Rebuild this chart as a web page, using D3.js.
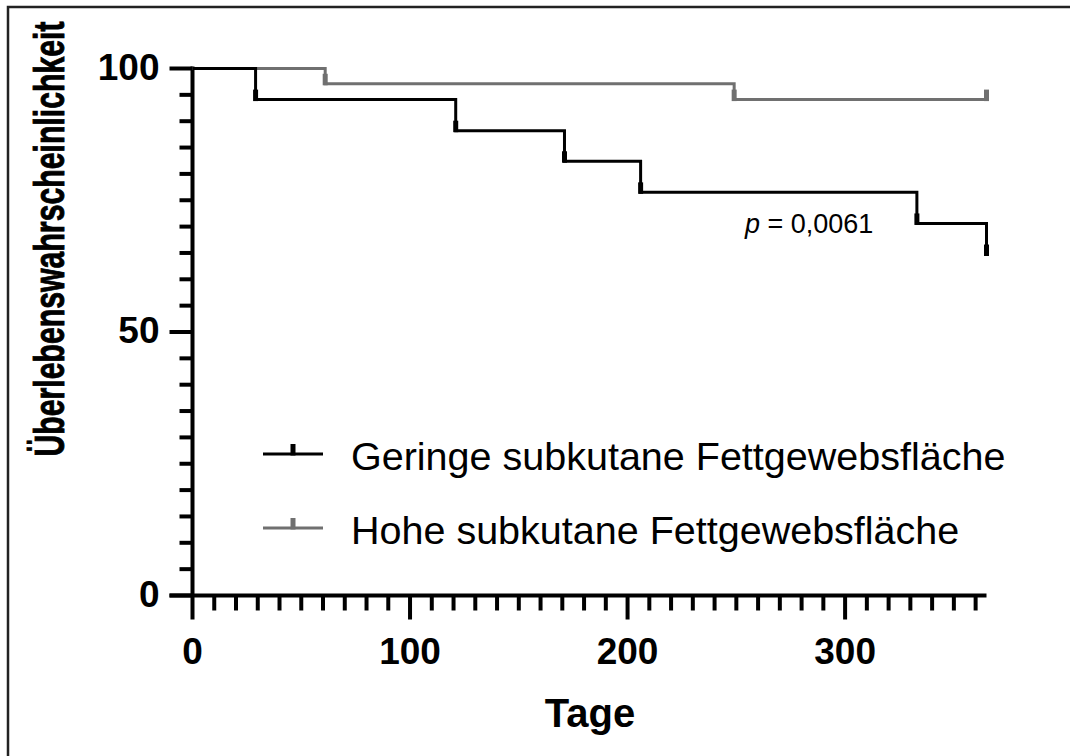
<!DOCTYPE html>
<html>
<head>
<meta charset="utf-8">
<script src="https://cdn.jsdelivr.net/npm/d3@7"></script>
<style>
  html, body { margin: 0; padding: 0; background: #fff; }
  svg { display: block; }
  text { font-family: "Liberation Sans", Arial, sans-serif; fill: #000; }
</style>
</head>
<body>
<svg id="chart" width="1070" height="756"></svg>
<script>
// Kaplan-Meier step data (survival in %)
const geringeTimes = [0, 29, 121, 171, 206, 333, 365];
const geringeSurv  = [100, 94.1, 88.2, 82.4, 76.5, 70.6, 64.7];
const geringeCensor = [29, 121, 171, 206, 333, 365];

const hoheTimes = [0, 61, 249, 365];
const hoheSurv  = [100, 97.1, 94.1, 94.1];
const hoheCensor = [61, 249, 365];

const seriesNames = ["Geringe subkutane Fettgewebsfläche", "Hohe subkutane Fettgewebsfläche"];
const seriesColors = ["#000000", "#707070"];

const xMajorTicks = [0, 100, 200, 300];
const yMajorTicks = [0, 50, 100];
const xLabel = "Tage";
const yLabel = "Überlebenswahrscheinlichkeit";
const pLabelValue = "0,0061";

const svg = d3.select("#chart");

// frame around the figure
svg.append("rect")
  .attr("x", 8).attr("y", 7).attr("width", 1080).attr("height", 770)
  .attr("fill", "none").attr("stroke", "#222").attr("stroke-width", 2.5);

const x = d3.scaleLinear().domain([0, 365]).range([192.5, 986.5]);
const y = d3.scaleLinear().domain([0, 100]).range([595.5, 68.5]);

const axisW = 4;

// y axis
const yAxis = svg.append("g").attr("transform", `translate(${x(0)},0)`);
yAxis.append("line")
  .attr("x1", 0).attr("x2", 0).attr("y1", y(100) - 2).attr("y2", y(0) + 24)
  .attr("stroke", "#000").attr("stroke-width", axisW);
yAxis.selectAll("line.minor")
  .data(d3.range(0, 101, 5).filter(v => !yMajorTicks.includes(v)))
  .join("line").attr("class", "minor")
  .attr("x1", -13).attr("x2", 0)
  .attr("y1", d => y(d)).attr("y2", d => y(d))
  .attr("stroke", "#000").attr("stroke-width", axisW);
yAxis.selectAll("line.major")
  .data(yMajorTicks)
  .join("line").attr("class", "major")
  .attr("x1", -23).attr("x2", 0)
  .attr("y1", d => y(d)).attr("y2", d => y(d))
  .attr("stroke", "#000").attr("stroke-width", axisW);
yAxis.selectAll("text")
  .data(yMajorTicks)
  .join("text")
  .attr("x", -33).attr("y", d => y(d) + 11)
  .attr("text-anchor", "end")
  .attr("font-size", 37).attr("font-weight", "bold")
  .text(d => d);

// x axis
const xAxis = svg.append("g").attr("transform", `translate(0,${y(0)})`);
xAxis.append("line")
  .attr("x1", x(0) - 23).attr("x2", x(365)).attr("y1", 0).attr("y2", 0)
  .attr("stroke", "#000").attr("stroke-width", axisW);
xAxis.selectAll("line.minor")
  .data(d3.range(10, 361, 10).filter(v => !xMajorTicks.includes(v)))
  .join("line").attr("class", "minor")
  .attr("x1", d => x(d)).attr("x2", d => x(d))
  .attr("y1", 0).attr("y2", 15)
  .attr("stroke", "#000").attr("stroke-width", axisW);
xAxis.selectAll("line.major")
  .data(xMajorTicks.filter(v => v > 0))
  .join("line").attr("class", "major")
  .attr("x1", d => x(d)).attr("x2", d => x(d))
  .attr("y1", 0).attr("y2", 24)
  .attr("stroke", "#000").attr("stroke-width", axisW);
xAxis.selectAll("text")
  .data(xMajorTicks)
  .join("text")
  .attr("x", d => x(d)).attr("y", 68)
  .attr("text-anchor", "middle")
  .attr("font-size", 37).attr("font-weight", "bold")
  .text(d => d);

// axis titles
svg.append("text")
  .attr("x", 590).attr("y", 727)
  .attr("text-anchor", "middle")
  .attr("font-size", 40).attr("font-weight", "bold")
  .text(xLabel);

// condensed, heavy vertical title
svg.append("text")
  .attr("transform", "translate(64,239) rotate(-90) scale(0.72,1)")
  .attr("text-anchor", "middle")
  .attr("font-size", 42).attr("font-weight", "bold")
  .attr("stroke", "#000").attr("stroke-width", 0.9)
  .text(yLabel);

// survival curves
const series = [
  { times: geringeTimes, surv: geringeSurv, censor: geringeCensor, color: seriesColors[0] },
  { times: hoheTimes, surv: hoheSurv, censor: hoheCensor, color: seriesColors[1] }
];

const line = d3.line()
  .x(d => x(d[0])).y(d => y(d[1]))
  .curve(d3.curveStepAfter);

function survAt(s, t) {
  let v = s.surv[0];
  for (let i = 0; i < s.times.length; i++) if (s.times[i] <= t) v = s.surv[i];
  return v;
}

// grey first so the black curve sits on top
[series[1], series[0]].forEach(s => {
  svg.append("path")
    .datum(s.times.map((t, i) => [t, s.surv[i]]))
    .attr("d", line)
    .attr("fill", "none")
    .attr("stroke", s.color)
    .attr("stroke-width", 3)
    .attr("stroke-linejoin", "miter");
  svg.selectAll(null)
    .data(s.censor)
    .join("line")
    .attr("x1", d => x(d)).attr("x2", d => x(d))
    .attr("y1", d => y(survAt(s, d)) + 1.5)
    .attr("y2", d => y(survAt(s, d)) - 10)
    .attr("stroke", s.color)
    .attr("stroke-width", 5);
});

// log-rank p value
const pText = svg.append("text")
  .attr("x", 745).attr("y", 233)
  .attr("font-size", 27);
pText.append("tspan").attr("font-style", "italic").text("p");
pText.append("tspan").text(" = " + pLabelValue);

// legend
const legend = svg.append("g");
seriesNames.forEach((name, i) => {
  const ly = 454 + i * 74;
  legend.append("line")
    .attr("x1", 263).attr("x2", 323).attr("y1", ly).attr("y2", ly)
    .attr("stroke", seriesColors[i]).attr("stroke-width", 3);
  legend.append("line")
    .attr("x1", 293).attr("x2", 293).attr("y1", ly + 1.5).attr("y2", ly - 10)
    .attr("stroke", seriesColors[i]).attr("stroke-width", 5);
  legend.append("text")
    .attr("x", 351).attr("y", ly + 16)
    .attr("font-size", 39.5)
    .text(name);
});
</script>
</body>
</html>
